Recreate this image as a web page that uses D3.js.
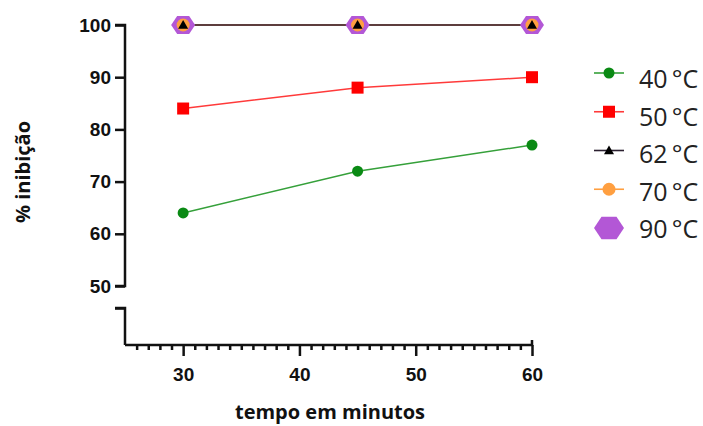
<!DOCTYPE html>
<html>
<head>
<meta charset="utf-8">
<script src="https://cdn.jsdelivr.net/npm/d3@7"></script>
<style>
  body { margin: 0; background: #fff; }
  svg { display: block; }
</style>
</head>
<body>
<div id="chart"></div>
<script>
// data
var times = [30, 45, 60];
var labels = ["40\u2009°C", "50\u2009°C", "62\u2009°C", "70\u2009°C", "90\u2009°C"];
var v40 = [64, 72, 77];
var v50 = [84, 88, 90];
var v62 = [100, 100, 100];
var v70 = [100, 100, 100];
var v90 = [100, 100, 100];
var xTicks = [30, 40, 50, 60];
var yTicks = [50, 60, 70, 80, 90, 100];

var series = [
    { name: labels[4], values: v90, color: "#b357d6", line: "#b357d6", shape: "hex", size: 12 },
    { name: labels[3], values: v70, color: "#ff9f40", line: "#ff9f40", shape: "circle", size: 6.5 },
    { name: labels[2], values: v62, color: "#000000", line: "#2b2030", shape: "triangle", size: 5 },
    { name: labels[1], values: v50, color: "#ff0000", line: "#ff3a3a", shape: "square", size: 6 },
    { name: labels[0], values: v40, color: "#0a8a14", line: "#35a03a", shape: "circle", size: 5.5 }
];
// legend order top to bottom
var legendOrder = [4, 3, 2, 1, 0];

var svgWidth = 703, svgHeight = 426;
var axisX = 125;

var svg = d3.select("#chart")
    .append("svg")
    .attr("width", svgWidth)
    .attr("height", svgHeight);

var x = d3.scaleLinear().domain([25, 60]).range([axisX, 532]);
var y = d3.scaleLinear().domain([50, 100]).range([286, 25]);
var yLow = d3.scaleLinear().domain([0, 1]).range([345, 308]);

function markerPath(shape, s) {
    if (shape === "hex") {
        var pts = d3.range(6).map(function(i) {
            var a = i * Math.PI / 3;
            return [s * Math.cos(a), s * Math.sin(a) * 0.87];
        });
        return "M" + pts.map(function(p) { return p.join(","); }).join("L") + "Z";
    }
    if (shape === "triangle") {
        return "M0," + (-s) + "L" + s + "," + (s * 0.75) + "L" + (-s) + "," + (s * 0.75) + "Z";
    }
    if (shape === "square") {
        return "M" + (-s) + "," + (-s) + "H" + s + "V" + s + "H" + (-s) + "Z";
    }
    return d3.arc()({ innerRadius: 0, outerRadius: s, startAngle: 0, endAngle: 2 * Math.PI });
}

// y axis, upper part
var yAxis = svg.append("g")
    .attr("transform", "translate(" + axisX + ",0)")
    .call(d3.axisLeft(y).tickValues(yTicks).tickSize(10).tickPadding(4).tickFormat(d3.format("d")));
yAxis.select(".domain").attr("d", "M-10," + y(50) + "H0V" + y(100) + "H-10");

// y axis, lower stub below the break
var yAxisLow = svg.append("g")
    .attr("transform", "translate(" + axisX + ",0)")
    .call(d3.axisLeft(yLow).tickValues([1]).tickSize(10).tickFormat(""));
yAxisLow.select(".domain").attr("d", "M-10," + yLow(1) + "H0V" + yLow(0));

// x axis with minor ticks
var minor = d3.range(26, 60, 1).filter(function(d) { return d % 10 !== 0; });
var xMinor = svg.append("g")
    .attr("transform", "translate(0," + yLow(0) + ")")
    .call(d3.axisBottom(x).tickValues(minor).tickSize(5).tickFormat(""));
xMinor.select(".domain").remove();
var xAxis = svg.append("g")
    .attr("transform", "translate(0," + yLow(0) + ")")
    .call(d3.axisBottom(x).tickValues(xTicks).tickSize(11).tickPadding(12).tickFormat(d3.format("d")));
xAxis.select(".domain").attr("d", "M" + x(25) + ",0H" + x(60) + "V-5");

svg.selectAll(".tick line, .domain")
    .attr("stroke", "#111")
    .attr("stroke-width", 2.5);
svg.selectAll(".tick text")
    .attr("fill", "#111")
    .style("font-family", "'Liberation Sans', Arial, sans-serif")
    .style("font-weight", "bold")
    .style("font-size", "19px");

// lines and markers
var line = d3.line()
    .x(function(d, i) { return x(times[i]); })
    .y(function(d) { return y(d); });

series.forEach(function(s) {
    svg.append("path")
        .datum(s.values)
        .attr("fill", "none")
        .attr("stroke", s.line)
        .attr("stroke-width", 1.5)
        .attr("d", line);
});
series.forEach(function(s) {
    svg.selectAll(null)
        .data(s.values)
        .enter().append("path")
        .attr("transform", function(d, i) { return "translate(" + x(times[i]) + "," + y(d) + ")"; })
        .attr("d", markerPath(s.shape, s.size))
        .attr("fill", s.color);
});

// axis titles
svg.append("text")
    .attr("x", 330)
    .attr("y", 419)
    .attr("text-anchor", "middle")
    .style("font-family", "'Open Sans', 'Noto Sans', sans-serif")
    .style("font-weight", "bold")
    .style("font-size", "20px")
    .attr("fill", "#111")
    .text("tempo em minutos");

svg.append("text")
    .attr("transform", "translate(30,172) rotate(-90)")
    .attr("text-anchor", "middle")
    .style("font-family", "'Open Sans', 'Noto Sans', sans-serif")
    .style("font-weight", "bold")
    .style("font-size", "20px")
    .attr("fill", "#111")
    .text("% inibição");

// legend: markers and text rows are spaced slightly differently
var names = legendOrder.map(function(i) { return series[i].name; });
var legendY = d3.scalePoint().domain(names).range([73, 228]);
var legendTextY = d3.scalePoint().domain(names).range([79, 229]);
legendOrder.forEach(function(idx) {
    var s = series[idx];
    var g = svg.append("g").attr("transform", "translate(609," + legendY(s.name) + ")");
    if (s.shape !== "hex") {
        g.append("line")
            .attr("x1", -15).attr("x2", 15)
            .attr("stroke", s.line)
            .attr("stroke-width", 1.6);
    }
    g.append("path")
        .attr("d", markerPath(s.shape, s.shape === "hex" ? 15 : s.size))
        .attr("fill", s.color);
    svg.append("text")
        .attr("x", 639)
        .attr("y", legendTextY(s.name) + 9)
        .style("font-family", "'Open Sans', 'Noto Sans', sans-serif")
        .style("font-size", "25px")
        .attr("fill", "#222")
        .text(s.name);
});
</script>
</body>
</html>
